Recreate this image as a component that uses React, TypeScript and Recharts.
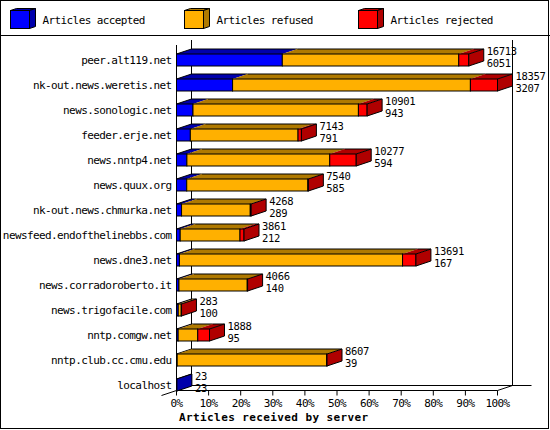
import React from 'react';
import { BarChart, Bar, XAxis, YAxis, Customized } from 'recharts';

// ---------- data ----------
const HOSTS = [
  'peer.alt119.net',
  'nk-out.news.weretis.net',
  'news.sonologic.net',
  'feeder.erje.net',
  'news.nntp4.net',
  'news.quux.org',
  'nk-out.news.chmurka.net',
  'newsfeed.endofthelinebbs.com',
  'news.dne3.net',
  'news.corradoroberto.it',
  'news.trigofacile.com',
  'nntp.comgw.net',
  'nntp.club.cc.cmu.edu',
  'localhost',
];
const ACCEPTED = [6051, 3207, 943, 791, 594, 585, 289, 212, 167, 140, 100, 95, 39, 23];
const REFUSED = [10090, 13600, 9460, 6160, 8170, 6930, 3929, 3420, 12760, 3906, 173, 1120, 8548, 0];
const REJECTED = [572, 1550, 498, 192, 1513, 25, 50, 229, 764, 20, 10, 673, 20, 0];

const SERIES_KEYS = ['accepted', 'refused', 'rejected'];
const SERIES_NAMES = ['Articles accepted', 'Articles refused', 'Articles rejected'];
const SERIES_COLORS = ['#0000FF', '#FFB000', '#FF0000'];
const SERIES_DARK = ['#0000AC', '#B07A00', '#B00000'];
const TICK_PCTS = [0, 10, 20, 30, 40, 50, 60, 70, 80, 90, 100];
const AXIS_TITLE = 'Articles received by server';

const data = HOSTS.map((host, i) => ({
  host,
  accepted: ACCEPTED[i],
  refused: REFUSED[i],
  rejected: REJECTED[i],
  total: ACCEPTED[i] + REFUSED[i] + REJECTED[i],
}));
const MAX_TOTAL = Math.max(...data.map((d) => d.total));

// ---------- layout ----------
const W = 550;
const H = 430;
const Y_AXIS_W = 170;
const X_AXIS_H = 30;
const MARGIN = { top: 47, right: 52.5, bottom: 3, left: 6.5 };
const PL = MARGIN.left + Y_AXIS_W;
const PR = W - MARGIN.right;
const PB = H - MARGIN.bottom - X_AXIS_H;
const BAR = 12;
const BAND = (PB - MARGIN.top) / HOSTS.length;
const FB = PB - (BAND - BAR) / 2;
const DX = 15;
const DY = 5;
const FRONT_TOP = MARGIN.top - 2;
const BACK_TOP = FRONT_TOP - DY;

const FONT = '"DejaVu Sans Mono", "Liberation Mono", monospace';
const TXT = { fontFamily: FONT, fontSize: 11, letterSpacing: -0.6, fill: '#000' } as const;
const VAL_TXT = { fontFamily: FONT, fontSize: 10.5, letterSpacing: -0.3, fill: '#000' } as const;

function makeShape(k: number) {
  return (props: any) => {
    const { x, y, width, height, payload } = props;
    if (payload == null || x == null || isNaN(x) || isNaN(y)) return <g />;
    const vals = SERIES_KEYS.map((key) => payload[key] as number);
    if (!(vals[k] > 0)) return <g />;
    let first = -1;
    let last = -1;
    vals.forEach((v, i) => {
      if (v > 0) {
        if (first < 0) first = i;
        last = i;
      }
    });
    const w = Math.max(width, 0);
    const h = height;
    const col = SERIES_COLORS[k];
    const dark = SERIES_DARK[k];
    return (
      <g>
        <polygon
          points={`${x},${y} ${x + w},${y} ${x + w + DX},${y - DY} ${x + DX},${y - DY}`}
          fill={dark}
          stroke="none"
        />
        <rect x={x} y={y} width={w} height={h} fill={col} stroke="#000" strokeWidth={1} />
        <line x1={x + DX} y1={y - DY} x2={x + w + DX} y2={y - DY} stroke="#000" strokeWidth={1} />
        {k === first && <line x1={x} y1={y} x2={x + DX} y2={y - DY} stroke="#000" strokeWidth={1} />}
        {k === last && (
          <g>
            <polygon
              points={`${x + w},${y} ${x + w + DX},${y - DY} ${x + w + DX},${y + h - DY} ${x + w},${y + h}`}
              fill={dark}
              stroke="#000"
              strokeWidth={1}
            />
            <text x={x + w + DX + 3} y={y + 0.5} {...VAL_TXT}>
              {payload.total}
            </text>
            <text x={x + w + DX + 3} y={y + h + 1} {...VAL_TXT}>
              {payload.accepted}
            </text>
          </g>
        )}
      </g>
    );
  };
}

const SHAPES = SERIES_KEYS.map((_, k) => makeShape(k));

function Frame() {
  const lx0 = 10.5;
  const step = 174;
  return (
    <g>
      <rect x={0.5} y={0.5} width={548} height={428} fill="#fff" stroke="#000" strokeWidth={1} />
      <line x1={0} y1={35.5} x2={W} y2={35.5} stroke="#000" strokeWidth={1} />
      {SERIES_NAMES.map((name, i) => {
        const bx = lx0 + i * step;
        const by = 10.5;
        const bw = 19;
        const bh = 18;
        const d = 6;
        const e = 2;
        return (
          <g key={name}>
            <polygon
              points={`${bx},${by} ${bx + bw},${by} ${bx + bw + d},${by - e} ${bx + d},${by - e}`}
              fill={SERIES_DARK[i]}
              stroke="#000"
            />
            <polygon
              points={`${bx + bw},${by} ${bx + bw + d},${by - e} ${bx + bw + d},${by + bh - e} ${bx + bw},${by + bh}`}
              fill={SERIES_DARK[i]}
              stroke="#000"
            />
            <rect x={bx} y={by} width={bw} height={bh} fill={SERIES_COLORS[i]} stroke="#000" />
            <text x={bx + 32} y={24} {...TXT}>
              {name}
            </text>
          </g>
        );
      })}
      {/* 3D axis frame */}
      <line x1={PL} y1={FRONT_TOP} x2={PL} y2={FB} stroke="#000" />
      <line x1={PL + DX} y1={BACK_TOP} x2={PL + DX} y2={FB - DY} stroke="#000" />
      <line x1={PR + DX} y1={BACK_TOP} x2={PR + DX} y2={FB - DY} stroke="#000" />
      <line x1={PL + DX} y1={FB - DY} x2={PR + DX + 19} y2={FB - DY} stroke="#000" />
      <line x1={PL} y1={FB} x2={PR} y2={FB} stroke="#000" />
      <line x1={PL - DX} y1={FB + DY} x2={PL + DX} y2={FB - DY} stroke="#000" />
      <line x1={PR} y1={FB} x2={PR + DX} y2={FB - DY} stroke="#000" />
      <text
        x={PL + 2.5}
        y={421}
        fontFamily={FONT}
        fontSize={11}
        fontWeight="bold"
        letterSpacing={0.4}
        fill="#000"
      >
        {AXIS_TITLE}
      </text>
    </g>
  );
}

const XTick = (props: any) => {
  const { x, payload } = props;
  const pct = Math.round((payload.value / MAX_TOTAL) * 100);
  return (
    <g>
      <line x1={x} y1={FB} x2={x} y2={FB + 5} stroke="#000" />
      <text x={x} y={FB + 16} textAnchor="middle" {...TXT}>
        {pct + '%'}
      </text>
    </g>
  );
};

const YTick = (props: any) => {
  const { x, y, payload } = props;
  return (
    <text x={x} y={y + 4.5} textAnchor="end" {...TXT}>
      {payload.value}
    </text>
  );
};

export default function App() {
  return (
    <div style={{ position: 'absolute', left: 0, top: 0, width: W, height: H, background: '#fff' }}>
      <BarChart width={W} height={H} data={data} layout="vertical" margin={MARGIN}>
        <Customized component={<Frame />} />
        <XAxis
          type="number"
          domain={[0, MAX_TOTAL]}
          ticks={TICK_PCTS.map((p) => (p * MAX_TOTAL) / 100)}
          axisLine={false}
          tickLine={false}
          height={X_AXIS_H}
          tick={XTick}
          interval={0}
        />
        <YAxis
          type="category"
          dataKey="host"
          width={Y_AXIS_W}
          axisLine={false}
          tickLine={false}
          tickSize={0}
          tickMargin={5}
          tick={YTick}
          interval={0}
        />
        {SERIES_KEYS.map((key, k) => (
          <Bar
            key={key}
            dataKey={key}
            name={SERIES_NAMES[k]}
            stackId="a"
            fill={SERIES_COLORS[k]}
            barSize={BAR}
            shape={SHAPES[k]}
            isAnimationActive={false}
          />
        ))}
      </BarChart>
    </div>
  );
}
